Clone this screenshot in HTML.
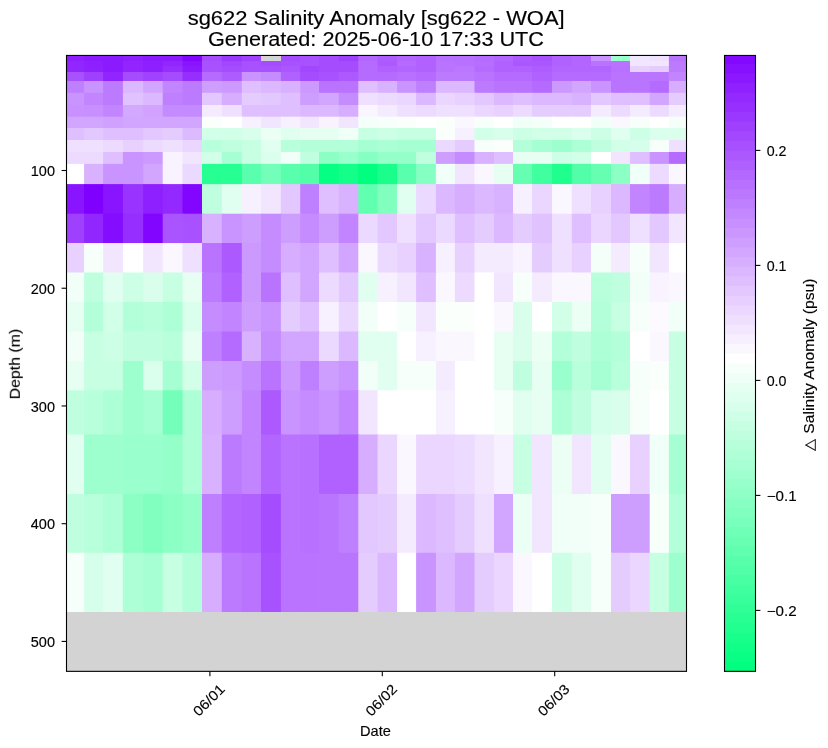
<!DOCTYPE html>
<html><head><meta charset="utf-8"><title>sg622 Salinity Anomaly</title>
<style>html,body{margin:0;padding:0;background:#fff;}svg{display:block;}text{font-family:"Liberation Sans",sans-serif;fill:#000;}.tx{opacity:0.999;}.s text{stroke:#000;stroke-width:0.15px;}</style></head><body>
<svg width="828" height="748" viewBox="0 0 828 748">
<rect width="828" height="748" fill="#ffffff"/>
<defs><clipPath id="ax"><rect x="66.50" y="55.45" width="620.00" height="615.90"/></clipPath>
<clipPath id="cb"><rect x="724.50" y="55.45" width="31.00" height="615.90"/></clipPath></defs>
<rect x="66.50" y="55.45" width="620.00" height="615.90" fill="#d3d3d3"/>
<g clip-path="url(#ax)">
<rect x="66.50" y="55.50" width="18.90" height="6.80" fill="#8e1fff"/>
<rect x="84.10" y="55.50" width="20.30" height="6.80" fill="#8c1aff"/>
<rect x="103.10" y="55.50" width="21.10" height="6.80" fill="#8c1aff"/>
<rect x="122.90" y="55.50" width="21.60" height="6.80" fill="#8e1fff"/>
<rect x="143.20" y="55.50" width="20.80" height="6.80" fill="#8c1aff"/>
<rect x="162.70" y="55.50" width="21.10" height="6.80" fill="#8c1aff"/>
<rect x="182.50" y="55.50" width="20.80" height="6.80" fill="#8205ff"/>
<rect x="202.00" y="55.50" width="21.10" height="6.80" fill="#a54cff"/>
<rect x="221.80" y="55.50" width="21.30" height="6.80" fill="#9b38ff"/>
<rect x="241.80" y="55.50" width="20.50" height="6.80" fill="#a042ff"/>
<rect x="280.90" y="55.50" width="20.60" height="6.80" fill="#a54cff"/>
<rect x="300.20" y="55.50" width="20.10" height="6.80" fill="#a852ff"/>
<rect x="319.00" y="55.50" width="21.10" height="6.80" fill="#a54cff"/>
<rect x="338.80" y="55.50" width="20.80" height="6.80" fill="#9f40ff"/>
<rect x="358.30" y="55.50" width="20.60" height="6.80" fill="#b266ff"/>
<rect x="377.60" y="55.50" width="20.80" height="6.80" fill="#ad5cff"/>
<rect x="397.10" y="55.50" width="20.30" height="6.80" fill="#b266ff"/>
<rect x="416.10" y="55.50" width="21.10" height="6.80" fill="#b061ff"/>
<rect x="435.90" y="55.50" width="20.30" height="6.80" fill="#b770ff"/>
<rect x="454.90" y="55.50" width="20.90" height="6.80" fill="#b770ff"/>
<rect x="474.50" y="55.50" width="20.80" height="6.80" fill="#b56bff"/>
<rect x="494.00" y="55.50" width="20.30" height="6.80" fill="#b266ff"/>
<rect x="513.00" y="55.50" width="20.30" height="6.80" fill="#ac59ff"/>
<rect x="532.00" y="55.50" width="21.30" height="6.80" fill="#a852ff"/>
<rect x="552.00" y="55.50" width="21.10" height="6.80" fill="#b061ff"/>
<rect x="571.80" y="55.50" width="20.50" height="6.80" fill="#b266ff"/>
<rect x="591.00" y="55.50" width="21.30" height="6.80" fill="#c994ff"/>
<rect x="611.00" y="55.50" width="20.30" height="6.80" fill="#99ffcc"/>
<rect x="630.00" y="55.50" width="21.00" height="6.80" fill="#f2e6ff"/>
<rect x="649.70" y="55.50" width="20.50" height="6.80" fill="#f0e0ff"/>
<rect x="668.90" y="55.50" width="18.90" height="6.80" fill="#b973ff"/>
<rect x="66.50" y="61.00" width="18.90" height="6.30" fill="#9226ff"/>
<rect x="84.10" y="61.00" width="20.30" height="6.30" fill="#8e1fff"/>
<rect x="103.10" y="61.00" width="21.10" height="6.30" fill="#8c1aff"/>
<rect x="122.90" y="61.00" width="21.60" height="6.30" fill="#9124ff"/>
<rect x="143.20" y="61.00" width="20.80" height="6.30" fill="#8e1fff"/>
<rect x="162.70" y="61.00" width="21.10" height="6.30" fill="#9226ff"/>
<rect x="182.50" y="61.00" width="20.80" height="6.30" fill="#8914ff"/>
<rect x="202.00" y="61.00" width="21.10" height="6.30" fill="#a852ff"/>
<rect x="221.80" y="61.00" width="21.30" height="6.30" fill="#a347ff"/>
<rect x="241.80" y="61.00" width="20.50" height="6.30" fill="#a852ff"/>
<rect x="261.00" y="61.00" width="21.20" height="6.30" fill="#a54cff"/>
<rect x="280.90" y="61.00" width="20.60" height="6.30" fill="#a852ff"/>
<rect x="300.20" y="61.00" width="20.10" height="6.30" fill="#a852ff"/>
<rect x="319.00" y="61.00" width="21.10" height="6.30" fill="#a54cff"/>
<rect x="338.80" y="61.00" width="20.80" height="6.30" fill="#a54cff"/>
<rect x="358.30" y="61.00" width="20.60" height="6.30" fill="#b56bff"/>
<rect x="377.60" y="61.00" width="20.80" height="6.30" fill="#ac59ff"/>
<rect x="397.10" y="61.00" width="20.30" height="6.30" fill="#b56bff"/>
<rect x="416.10" y="61.00" width="21.10" height="6.30" fill="#b061ff"/>
<rect x="435.90" y="61.00" width="20.30" height="6.30" fill="#b973ff"/>
<rect x="454.90" y="61.00" width="20.90" height="6.30" fill="#b770ff"/>
<rect x="474.50" y="61.00" width="20.80" height="6.30" fill="#b66eff"/>
<rect x="494.00" y="61.00" width="20.30" height="6.30" fill="#b061ff"/>
<rect x="513.00" y="61.00" width="20.30" height="6.30" fill="#ab57ff"/>
<rect x="532.00" y="61.00" width="21.30" height="6.30" fill="#ab57ff"/>
<rect x="552.00" y="61.00" width="21.10" height="6.30" fill="#b061ff"/>
<rect x="571.80" y="61.00" width="20.50" height="6.30" fill="#b266ff"/>
<rect x="591.00" y="61.00" width="21.30" height="6.30" fill="#b973ff"/>
<rect x="611.00" y="61.00" width="20.30" height="6.30" fill="#b973ff"/>
<rect x="630.00" y="61.00" width="21.00" height="6.30" fill="#f2e6ff"/>
<rect x="649.70" y="61.00" width="20.50" height="6.30" fill="#f2e6ff"/>
<rect x="668.90" y="61.00" width="18.90" height="6.30" fill="#bc7aff"/>
<rect x="66.50" y="66.00" width="18.90" height="7.30" fill="#9226ff"/>
<rect x="84.10" y="66.00" width="20.30" height="7.30" fill="#9021ff"/>
<rect x="103.10" y="66.00" width="21.10" height="7.30" fill="#8c1aff"/>
<rect x="122.90" y="66.00" width="21.60" height="7.30" fill="#9124ff"/>
<rect x="143.20" y="66.00" width="20.80" height="7.30" fill="#8e1fff"/>
<rect x="162.70" y="66.00" width="21.10" height="7.30" fill="#962eff"/>
<rect x="182.50" y="66.00" width="20.80" height="7.30" fill="#8c1aff"/>
<rect x="202.00" y="66.00" width="21.10" height="7.30" fill="#a852ff"/>
<rect x="221.80" y="66.00" width="21.30" height="7.30" fill="#a54cff"/>
<rect x="241.80" y="66.00" width="20.50" height="7.30" fill="#a852ff"/>
<rect x="261.00" y="66.00" width="21.20" height="7.30" fill="#a852ff"/>
<rect x="280.90" y="66.00" width="20.60" height="7.30" fill="#ab57ff"/>
<rect x="300.20" y="66.00" width="20.10" height="7.30" fill="#a347ff"/>
<rect x="319.00" y="66.00" width="21.10" height="7.30" fill="#a54cff"/>
<rect x="338.80" y="66.00" width="20.80" height="7.30" fill="#a54cff"/>
<rect x="358.30" y="66.00" width="20.60" height="7.30" fill="#b56bff"/>
<rect x="377.60" y="66.00" width="20.80" height="7.30" fill="#b061ff"/>
<rect x="397.10" y="66.00" width="20.30" height="7.30" fill="#b266ff"/>
<rect x="416.10" y="66.00" width="21.10" height="7.30" fill="#b061ff"/>
<rect x="435.90" y="66.00" width="20.30" height="7.30" fill="#b973ff"/>
<rect x="454.90" y="66.00" width="20.90" height="7.30" fill="#bb78ff"/>
<rect x="474.50" y="66.00" width="20.80" height="7.30" fill="#b56bff"/>
<rect x="494.00" y="66.00" width="20.30" height="7.30" fill="#b061ff"/>
<rect x="513.00" y="66.00" width="20.30" height="7.30" fill="#b061ff"/>
<rect x="532.00" y="66.00" width="21.30" height="7.30" fill="#ad5cff"/>
<rect x="552.00" y="66.00" width="21.10" height="7.30" fill="#b266ff"/>
<rect x="571.80" y="66.00" width="20.50" height="7.30" fill="#b266ff"/>
<rect x="591.00" y="66.00" width="21.30" height="7.30" fill="#b266ff"/>
<rect x="611.00" y="66.00" width="20.30" height="7.30" fill="#b770ff"/>
<rect x="630.00" y="66.00" width="21.00" height="7.30" fill="#e8d1ff"/>
<rect x="649.70" y="66.00" width="20.50" height="7.30" fill="#e5ccff"/>
<rect x="668.90" y="66.00" width="18.90" height="7.30" fill="#bc7aff"/>
<rect x="66.50" y="72.00" width="18.90" height="10.30" fill="#a852ff"/>
<rect x="84.10" y="72.00" width="20.30" height="10.30" fill="#9f40ff"/>
<rect x="103.10" y="72.00" width="21.10" height="10.30" fill="#9124ff"/>
<rect x="122.90" y="72.00" width="21.60" height="10.30" fill="#a54cff"/>
<rect x="143.20" y="72.00" width="20.80" height="10.30" fill="#a042ff"/>
<rect x="162.70" y="72.00" width="21.10" height="10.30" fill="#a54cff"/>
<rect x="182.50" y="72.00" width="20.80" height="10.30" fill="#962eff"/>
<rect x="202.00" y="72.00" width="21.10" height="10.30" fill="#b56bff"/>
<rect x="221.80" y="72.00" width="21.30" height="10.30" fill="#ad5cff"/>
<rect x="241.80" y="72.00" width="20.50" height="10.30" fill="#c994ff"/>
<rect x="261.00" y="72.00" width="21.20" height="10.30" fill="#c58cff"/>
<rect x="280.90" y="72.00" width="20.60" height="10.30" fill="#b061ff"/>
<rect x="300.20" y="72.00" width="20.10" height="10.30" fill="#a54cff"/>
<rect x="319.00" y="72.00" width="21.10" height="10.30" fill="#a852ff"/>
<rect x="338.80" y="72.00" width="20.80" height="10.30" fill="#ac59ff"/>
<rect x="358.30" y="72.00" width="20.60" height="10.30" fill="#b56bff"/>
<rect x="377.60" y="72.00" width="20.80" height="10.30" fill="#b56bff"/>
<rect x="397.10" y="72.00" width="20.30" height="10.30" fill="#b770ff"/>
<rect x="416.10" y="72.00" width="21.10" height="10.30" fill="#b56bff"/>
<rect x="435.90" y="72.00" width="20.30" height="10.30" fill="#bc7aff"/>
<rect x="454.90" y="72.00" width="20.90" height="10.30" fill="#bc7aff"/>
<rect x="474.50" y="72.00" width="20.80" height="10.30" fill="#b973ff"/>
<rect x="494.00" y="72.00" width="20.30" height="10.30" fill="#b56bff"/>
<rect x="513.00" y="72.00" width="20.30" height="10.30" fill="#b56bff"/>
<rect x="532.00" y="72.00" width="21.30" height="10.30" fill="#b061ff"/>
<rect x="552.00" y="72.00" width="21.10" height="10.30" fill="#b56bff"/>
<rect x="571.80" y="72.00" width="20.50" height="10.30" fill="#b56bff"/>
<rect x="591.00" y="72.00" width="21.30" height="10.30" fill="#b56bff"/>
<rect x="611.00" y="72.00" width="20.30" height="10.30" fill="#b973ff"/>
<rect x="630.00" y="72.00" width="21.00" height="10.30" fill="#ba75ff"/>
<rect x="649.70" y="72.00" width="20.50" height="10.30" fill="#ba75ff"/>
<rect x="668.90" y="72.00" width="18.90" height="10.30" fill="#c285ff"/>
<rect x="66.50" y="81.00" width="18.90" height="13.10" fill="#bf80ff"/>
<rect x="84.10" y="81.00" width="20.30" height="13.10" fill="#c994ff"/>
<rect x="103.10" y="81.00" width="21.10" height="13.10" fill="#bc7aff"/>
<rect x="122.90" y="81.00" width="21.60" height="13.10" fill="#dbb8ff"/>
<rect x="143.20" y="81.00" width="20.80" height="13.10" fill="#d2a6ff"/>
<rect x="162.70" y="81.00" width="21.10" height="13.10" fill="#c285ff"/>
<rect x="182.50" y="81.00" width="20.80" height="13.10" fill="#bc7aff"/>
<rect x="202.00" y="81.00" width="21.10" height="13.10" fill="#ce9eff"/>
<rect x="221.80" y="81.00" width="21.30" height="13.10" fill="#cc99ff"/>
<rect x="241.80" y="81.00" width="20.50" height="13.10" fill="#dfbfff"/>
<rect x="261.00" y="81.00" width="21.20" height="13.10" fill="#dbb8ff"/>
<rect x="280.90" y="81.00" width="20.60" height="13.10" fill="#d9b2ff"/>
<rect x="300.20" y="81.00" width="20.10" height="13.10" fill="#cc99ff"/>
<rect x="319.00" y="81.00" width="21.10" height="13.10" fill="#b973ff"/>
<rect x="338.80" y="81.00" width="20.80" height="13.10" fill="#b973ff"/>
<rect x="358.30" y="81.00" width="20.60" height="13.10" fill="#dfbfff"/>
<rect x="377.60" y="81.00" width="20.80" height="13.10" fill="#d9b2ff"/>
<rect x="397.10" y="81.00" width="20.30" height="13.10" fill="#c994ff"/>
<rect x="416.10" y="81.00" width="21.10" height="13.10" fill="#bf80ff"/>
<rect x="435.90" y="81.00" width="20.30" height="13.10" fill="#dbb8ff"/>
<rect x="454.90" y="81.00" width="20.90" height="13.10" fill="#dbb8ff"/>
<rect x="474.50" y="81.00" width="20.80" height="13.10" fill="#bc7aff"/>
<rect x="494.00" y="81.00" width="20.30" height="13.10" fill="#b973ff"/>
<rect x="513.00" y="81.00" width="20.30" height="13.10" fill="#b973ff"/>
<rect x="532.00" y="81.00" width="21.30" height="13.10" fill="#b56bff"/>
<rect x="552.00" y="81.00" width="21.10" height="13.10" fill="#cc99ff"/>
<rect x="571.80" y="81.00" width="20.50" height="13.10" fill="#d2a6ff"/>
<rect x="591.00" y="81.00" width="21.30" height="13.10" fill="#c994ff"/>
<rect x="611.00" y="81.00" width="20.30" height="13.10" fill="#b973ff"/>
<rect x="630.00" y="81.00" width="21.00" height="13.10" fill="#ba75ff"/>
<rect x="649.70" y="81.00" width="20.50" height="13.10" fill="#b56bff"/>
<rect x="668.90" y="81.00" width="18.90" height="13.10" fill="#d6adff"/>
<rect x="66.50" y="92.80" width="18.90" height="13.50" fill="#c994ff"/>
<rect x="84.10" y="92.80" width="20.30" height="13.50" fill="#c285ff"/>
<rect x="103.10" y="92.80" width="21.10" height="13.50" fill="#bc7aff"/>
<rect x="122.90" y="92.80" width="21.60" height="13.50" fill="#e0c2ff"/>
<rect x="143.20" y="92.80" width="20.80" height="13.50" fill="#dbb8ff"/>
<rect x="162.70" y="92.80" width="21.10" height="13.50" fill="#bf80ff"/>
<rect x="182.50" y="92.80" width="20.80" height="13.50" fill="#bc7aff"/>
<rect x="202.00" y="92.80" width="21.10" height="13.50" fill="#e3c7ff"/>
<rect x="221.80" y="92.80" width="21.30" height="13.50" fill="#d6adff"/>
<rect x="241.80" y="92.80" width="20.50" height="13.50" fill="#e5ccff"/>
<rect x="261.00" y="92.80" width="21.20" height="13.50" fill="#e3c7ff"/>
<rect x="280.90" y="92.80" width="20.60" height="13.50" fill="#dfbfff"/>
<rect x="300.20" y="92.80" width="20.10" height="13.50" fill="#ce9eff"/>
<rect x="319.00" y="92.80" width="21.10" height="13.50" fill="#d2a6ff"/>
<rect x="338.80" y="92.80" width="20.80" height="13.50" fill="#c58cff"/>
<rect x="358.30" y="92.80" width="20.60" height="13.50" fill="#f0e0ff"/>
<rect x="377.60" y="92.80" width="20.80" height="13.50" fill="#eddbff"/>
<rect x="397.10" y="92.80" width="20.30" height="13.50" fill="#ebd6ff"/>
<rect x="416.10" y="92.80" width="21.10" height="13.50" fill="#dbb8ff"/>
<rect x="435.90" y="92.80" width="20.30" height="13.50" fill="#ebd6ff"/>
<rect x="454.90" y="92.80" width="20.90" height="13.50" fill="#e8d1ff"/>
<rect x="474.50" y="92.80" width="20.80" height="13.50" fill="#e3c7ff"/>
<rect x="494.00" y="92.80" width="20.30" height="13.50" fill="#dbb8ff"/>
<rect x="513.00" y="92.80" width="20.30" height="13.50" fill="#dfbfff"/>
<rect x="532.00" y="92.80" width="21.30" height="13.50" fill="#dbb8ff"/>
<rect x="552.00" y="92.80" width="21.10" height="13.50" fill="#dbb8ff"/>
<rect x="571.80" y="92.80" width="20.50" height="13.50" fill="#d9b2ff"/>
<rect x="591.00" y="92.80" width="21.30" height="13.50" fill="#e3c7ff"/>
<rect x="611.00" y="92.80" width="20.30" height="13.50" fill="#dfbfff"/>
<rect x="630.00" y="92.80" width="21.00" height="13.50" fill="#dfbfff"/>
<rect x="649.70" y="92.80" width="20.50" height="13.50" fill="#d2a6ff"/>
<rect x="668.90" y="92.80" width="18.90" height="13.50" fill="#e5ccff"/>
<rect x="66.50" y="105.00" width="18.90" height="13.00" fill="#c891ff"/>
<rect x="84.10" y="105.00" width="20.30" height="13.00" fill="#c78fff"/>
<rect x="103.10" y="105.00" width="21.10" height="13.00" fill="#c285ff"/>
<rect x="122.90" y="105.00" width="21.60" height="13.00" fill="#d3a8ff"/>
<rect x="143.20" y="105.00" width="20.80" height="13.00" fill="#d1a3ff"/>
<rect x="162.70" y="105.00" width="21.10" height="13.00" fill="#c48aff"/>
<rect x="182.50" y="105.00" width="20.80" height="13.00" fill="#c48aff"/>
<rect x="202.00" y="105.00" width="21.10" height="13.00" fill="#f5ebff"/>
<rect x="221.80" y="105.00" width="21.30" height="13.00" fill="#f0e0ff"/>
<rect x="241.80" y="105.00" width="20.50" height="13.00" fill="#dfbfff"/>
<rect x="261.00" y="105.00" width="21.20" height="13.00" fill="#dfbfff"/>
<rect x="280.90" y="105.00" width="20.60" height="13.00" fill="#dfbfff"/>
<rect x="300.20" y="105.00" width="20.10" height="13.00" fill="#dbb8ff"/>
<rect x="319.00" y="105.00" width="21.10" height="13.00" fill="#dbb8ff"/>
<rect x="338.80" y="105.00" width="20.80" height="13.00" fill="#d6adff"/>
<rect x="358.30" y="105.00" width="20.60" height="13.00" fill="#faf5ff"/>
<rect x="377.60" y="105.00" width="20.80" height="13.00" fill="#f5ebff"/>
<rect x="397.10" y="105.00" width="20.30" height="13.00" fill="#f0e0ff"/>
<rect x="416.10" y="105.00" width="21.10" height="13.00" fill="#eddbff"/>
<rect x="435.90" y="105.00" width="20.30" height="13.00" fill="#f0e0ff"/>
<rect x="454.90" y="105.00" width="20.90" height="13.00" fill="#f0e0ff"/>
<rect x="474.50" y="105.00" width="20.80" height="13.00" fill="#ebd6ff"/>
<rect x="494.00" y="105.00" width="20.30" height="13.00" fill="#e8d1ff"/>
<rect x="513.00" y="105.00" width="20.30" height="13.00" fill="#eddbff"/>
<rect x="532.00" y="105.00" width="21.30" height="13.00" fill="#e5ccff"/>
<rect x="552.00" y="105.00" width="21.10" height="13.00" fill="#e5ccff"/>
<rect x="571.80" y="105.00" width="20.50" height="13.00" fill="#e5ccff"/>
<rect x="591.00" y="105.00" width="21.30" height="13.00" fill="#f5ebff"/>
<rect x="611.00" y="105.00" width="20.30" height="13.00" fill="#eddbff"/>
<rect x="630.00" y="105.00" width="21.00" height="13.00" fill="#f5ebff"/>
<rect x="649.70" y="105.00" width="20.50" height="13.00" fill="#eddbff"/>
<rect x="668.90" y="105.00" width="18.90" height="13.00" fill="#f5ebff"/>
<rect x="66.50" y="116.70" width="18.90" height="12.60" fill="#d2a6ff"/>
<rect x="84.10" y="116.70" width="20.30" height="12.60" fill="#d2a6ff"/>
<rect x="103.10" y="116.70" width="21.10" height="12.60" fill="#d0a1ff"/>
<rect x="122.90" y="116.70" width="21.60" height="12.60" fill="#d2a6ff"/>
<rect x="143.20" y="116.70" width="20.80" height="12.60" fill="#d2a6ff"/>
<rect x="162.70" y="116.70" width="21.10" height="12.60" fill="#d2a6ff"/>
<rect x="182.50" y="116.70" width="20.80" height="12.60" fill="#d2a6ff"/>
<rect x="202.00" y="116.70" width="21.10" height="12.60" fill="#fafffc"/>
<rect x="221.80" y="116.70" width="21.30" height="12.60" fill="#ffffff"/>
<rect x="241.80" y="116.70" width="20.50" height="12.60" fill="#f7f0ff"/>
<rect x="261.00" y="116.70" width="21.20" height="12.60" fill="#f2e6ff"/>
<rect x="280.90" y="116.70" width="20.60" height="12.60" fill="#f7f0ff"/>
<rect x="300.20" y="116.70" width="20.10" height="12.60" fill="#f2e6ff"/>
<rect x="319.00" y="116.70" width="21.10" height="12.60" fill="#f9f2ff"/>
<rect x="338.80" y="116.70" width="20.80" height="12.60" fill="#f2e6ff"/>
<rect x="358.30" y="116.70" width="20.60" height="12.60" fill="#f5fffa"/>
<rect x="377.60" y="116.70" width="20.80" height="12.60" fill="#f7fffb"/>
<rect x="397.10" y="116.70" width="20.30" height="12.60" fill="#fafffc"/>
<rect x="416.10" y="116.70" width="21.10" height="12.60" fill="#ffffff"/>
<rect x="435.90" y="116.70" width="20.30" height="12.60" fill="#fafffc"/>
<rect x="454.90" y="116.70" width="20.90" height="12.60" fill="#fbf7ff"/>
<rect x="474.50" y="116.70" width="20.80" height="12.60" fill="#f7fffb"/>
<rect x="494.00" y="116.70" width="20.30" height="12.60" fill="#ffffff"/>
<rect x="513.00" y="116.70" width="20.30" height="12.60" fill="#f0fff7"/>
<rect x="532.00" y="116.70" width="21.30" height="12.60" fill="#f5fffa"/>
<rect x="552.00" y="116.70" width="21.10" height="12.60" fill="#ffffff"/>
<rect x="571.80" y="116.70" width="20.50" height="12.60" fill="#ffffff"/>
<rect x="591.00" y="116.70" width="21.30" height="12.60" fill="#f0fff7"/>
<rect x="611.00" y="116.70" width="20.30" height="12.60" fill="#fbf7ff"/>
<rect x="630.00" y="116.70" width="21.00" height="12.60" fill="#f7fffb"/>
<rect x="649.70" y="116.70" width="20.50" height="12.60" fill="#ffffff"/>
<rect x="668.90" y="116.70" width="18.90" height="12.60" fill="#f5fffa"/>
<rect x="66.50" y="128.00" width="18.90" height="13.30" fill="#dfbfff"/>
<rect x="84.10" y="128.00" width="20.30" height="13.30" fill="#e3c7ff"/>
<rect x="103.10" y="128.00" width="21.10" height="13.30" fill="#dfbfff"/>
<rect x="122.90" y="128.00" width="21.60" height="13.30" fill="#dfbfff"/>
<rect x="143.20" y="128.00" width="20.80" height="13.30" fill="#e3c7ff"/>
<rect x="162.70" y="128.00" width="21.10" height="13.30" fill="#e5ccff"/>
<rect x="182.50" y="128.00" width="20.80" height="13.30" fill="#dcbaff"/>
<rect x="202.00" y="128.00" width="21.10" height="13.30" fill="#d1ffe8"/>
<rect x="221.80" y="128.00" width="21.30" height="13.30" fill="#d1ffe8"/>
<rect x="241.80" y="128.00" width="20.50" height="13.30" fill="#d9ffec"/>
<rect x="261.00" y="128.00" width="21.20" height="13.30" fill="#ebfff5"/>
<rect x="280.90" y="128.00" width="20.60" height="13.30" fill="#e0fff0"/>
<rect x="300.20" y="128.00" width="20.10" height="13.30" fill="#e6fff2"/>
<rect x="319.00" y="128.00" width="21.10" height="13.30" fill="#e6fff2"/>
<rect x="338.80" y="128.00" width="20.80" height="13.30" fill="#f0fff7"/>
<rect x="358.30" y="128.00" width="20.60" height="13.30" fill="#c7ffe3"/>
<rect x="377.60" y="128.00" width="20.80" height="13.30" fill="#ccffe5"/>
<rect x="397.10" y="128.00" width="20.30" height="13.30" fill="#c7ffe3"/>
<rect x="416.10" y="128.00" width="21.10" height="13.30" fill="#c7ffe3"/>
<rect x="435.90" y="128.00" width="20.30" height="13.30" fill="#fafffc"/>
<rect x="454.90" y="128.00" width="20.90" height="13.30" fill="#f7f0ff"/>
<rect x="474.50" y="128.00" width="20.80" height="13.30" fill="#d1ffe8"/>
<rect x="494.00" y="128.00" width="20.30" height="13.30" fill="#d9ffec"/>
<rect x="513.00" y="128.00" width="20.30" height="13.30" fill="#ccffe5"/>
<rect x="532.00" y="128.00" width="21.30" height="13.30" fill="#d1ffe8"/>
<rect x="552.00" y="128.00" width="21.10" height="13.30" fill="#d1ffe8"/>
<rect x="571.80" y="128.00" width="20.50" height="13.30" fill="#dbffed"/>
<rect x="591.00" y="128.00" width="21.30" height="13.30" fill="#ccffe5"/>
<rect x="611.00" y="128.00" width="20.30" height="13.30" fill="#e0fff0"/>
<rect x="630.00" y="128.00" width="21.00" height="13.30" fill="#ccffe5"/>
<rect x="649.70" y="128.00" width="20.50" height="13.30" fill="#dbffed"/>
<rect x="668.90" y="128.00" width="18.90" height="13.30" fill="#dbffed"/>
<rect x="66.50" y="140.00" width="18.90" height="13.30" fill="#f0e0ff"/>
<rect x="84.10" y="140.00" width="20.30" height="13.30" fill="#f0e0ff"/>
<rect x="103.10" y="140.00" width="21.10" height="13.30" fill="#eddbff"/>
<rect x="122.90" y="140.00" width="21.60" height="13.30" fill="#e8d1ff"/>
<rect x="143.20" y="140.00" width="20.80" height="13.30" fill="#eddbff"/>
<rect x="162.70" y="140.00" width="21.10" height="13.30" fill="#f0e0ff"/>
<rect x="182.50" y="140.00" width="20.80" height="13.30" fill="#ebd6ff"/>
<rect x="202.00" y="140.00" width="21.10" height="13.30" fill="#b8ffdb"/>
<rect x="221.80" y="140.00" width="21.30" height="13.30" fill="#bfffdf"/>
<rect x="241.80" y="140.00" width="20.50" height="13.30" fill="#c7ffe3"/>
<rect x="261.00" y="140.00" width="21.20" height="13.30" fill="#e0fff0"/>
<rect x="280.90" y="140.00" width="20.60" height="13.30" fill="#b8ffdb"/>
<rect x="300.20" y="140.00" width="20.10" height="13.30" fill="#b2ffd9"/>
<rect x="319.00" y="140.00" width="21.10" height="13.30" fill="#b2ffd9"/>
<rect x="338.80" y="140.00" width="20.80" height="13.30" fill="#b2ffd9"/>
<rect x="358.30" y="140.00" width="20.60" height="13.30" fill="#a6ffd2"/>
<rect x="377.60" y="140.00" width="20.80" height="13.30" fill="#abffd5"/>
<rect x="397.10" y="140.00" width="20.30" height="13.30" fill="#a6ffd2"/>
<rect x="416.10" y="140.00" width="21.10" height="13.30" fill="#a6ffd2"/>
<rect x="435.90" y="140.00" width="20.30" height="13.30" fill="#ecd9ff"/>
<rect x="454.90" y="140.00" width="20.90" height="13.30" fill="#e5ccff"/>
<rect x="474.50" y="140.00" width="20.80" height="13.30" fill="#f7fffb"/>
<rect x="494.00" y="140.00" width="20.30" height="13.30" fill="#fafffc"/>
<rect x="513.00" y="140.00" width="20.30" height="13.30" fill="#b2ffd9"/>
<rect x="532.00" y="140.00" width="21.30" height="13.30" fill="#a6ffd2"/>
<rect x="552.00" y="140.00" width="21.10" height="13.30" fill="#9effce"/>
<rect x="571.80" y="140.00" width="20.50" height="13.30" fill="#adffd6"/>
<rect x="591.00" y="140.00" width="21.30" height="13.30" fill="#bfffdf"/>
<rect x="611.00" y="140.00" width="20.30" height="13.30" fill="#d1ffe8"/>
<rect x="630.00" y="140.00" width="21.00" height="13.30" fill="#d6ffeb"/>
<rect x="649.70" y="140.00" width="20.50" height="13.30" fill="#f7fffb"/>
<rect x="668.90" y="140.00" width="18.90" height="13.30" fill="#f0e0ff"/>
<rect x="66.50" y="152.00" width="18.90" height="13.20" fill="#eddbff"/>
<rect x="84.10" y="152.00" width="20.30" height="13.20" fill="#eddbff"/>
<rect x="103.10" y="152.00" width="21.10" height="13.20" fill="#dfbfff"/>
<rect x="122.90" y="152.00" width="21.60" height="13.20" fill="#c994ff"/>
<rect x="143.20" y="152.00" width="20.80" height="13.20" fill="#cc99ff"/>
<rect x="162.70" y="152.00" width="21.10" height="13.20" fill="#f9f2ff"/>
<rect x="182.50" y="152.00" width="20.80" height="13.20" fill="#f2e6ff"/>
<rect x="202.00" y="152.00" width="21.10" height="13.20" fill="#d1ffe8"/>
<rect x="221.80" y="152.00" width="21.30" height="13.20" fill="#a6ffd2"/>
<rect x="241.80" y="152.00" width="20.50" height="13.20" fill="#c7ffe3"/>
<rect x="261.00" y="152.00" width="21.20" height="13.20" fill="#dbffed"/>
<rect x="280.90" y="152.00" width="20.60" height="13.20" fill="#f2fff9"/>
<rect x="300.20" y="152.00" width="20.10" height="13.20" fill="#bfffdf"/>
<rect x="319.00" y="152.00" width="21.10" height="13.20" fill="#8cffc5"/>
<rect x="338.80" y="152.00" width="20.80" height="13.20" fill="#99ffcc"/>
<rect x="358.30" y="152.00" width="20.60" height="13.20" fill="#85ffc2"/>
<rect x="377.60" y="152.00" width="20.80" height="13.20" fill="#94ffc9"/>
<rect x="397.10" y="152.00" width="20.30" height="13.20" fill="#94ffc9"/>
<rect x="416.10" y="152.00" width="21.10" height="13.20" fill="#bfffdf"/>
<rect x="435.90" y="152.00" width="20.30" height="13.20" fill="#ce9eff"/>
<rect x="454.90" y="152.00" width="20.90" height="13.20" fill="#c58cff"/>
<rect x="474.50" y="152.00" width="20.80" height="13.20" fill="#d9b2ff"/>
<rect x="494.00" y="152.00" width="20.30" height="13.20" fill="#dfbfff"/>
<rect x="513.00" y="152.00" width="20.30" height="13.20" fill="#e6fff2"/>
<rect x="532.00" y="152.00" width="21.30" height="13.20" fill="#e6fff2"/>
<rect x="552.00" y="152.00" width="21.10" height="13.20" fill="#ccffe5"/>
<rect x="571.80" y="152.00" width="20.50" height="13.20" fill="#d1ffe8"/>
<rect x="591.00" y="152.00" width="21.30" height="13.20" fill="#ffffff"/>
<rect x="611.00" y="152.00" width="20.30" height="13.20" fill="#f2e6ff"/>
<rect x="630.00" y="152.00" width="21.00" height="13.20" fill="#dfbfff"/>
<rect x="649.70" y="152.00" width="20.50" height="13.20" fill="#c994ff"/>
<rect x="668.90" y="152.00" width="18.90" height="13.20" fill="#b56bff"/>
<rect x="66.50" y="163.90" width="18.90" height="21.50" fill="#ffffff"/>
<rect x="84.10" y="163.90" width="20.30" height="21.50" fill="#d9b2ff"/>
<rect x="103.10" y="163.90" width="21.10" height="21.50" fill="#c994ff"/>
<rect x="122.90" y="163.90" width="21.60" height="21.50" fill="#c994ff"/>
<rect x="143.20" y="163.90" width="20.80" height="21.50" fill="#d2a6ff"/>
<rect x="162.70" y="163.90" width="21.10" height="21.50" fill="#f9f2ff"/>
<rect x="182.50" y="163.90" width="20.80" height="21.50" fill="#ecd9ff"/>
<rect x="202.00" y="163.90" width="21.10" height="21.50" fill="#26ff92"/>
<rect x="221.80" y="163.90" width="21.30" height="21.50" fill="#26ff92"/>
<rect x="241.80" y="163.90" width="20.50" height="21.50" fill="#59ffac"/>
<rect x="261.00" y="163.90" width="21.20" height="21.50" fill="#73ffb9"/>
<rect x="280.90" y="163.90" width="20.60" height="21.50" fill="#59ffac"/>
<rect x="300.20" y="163.90" width="20.10" height="21.50" fill="#52ffa8"/>
<rect x="319.00" y="163.90" width="21.10" height="21.50" fill="#05ff82"/>
<rect x="338.80" y="163.90" width="20.80" height="21.50" fill="#14ff89"/>
<rect x="358.30" y="163.90" width="20.60" height="21.50" fill="#00ff7f"/>
<rect x="377.60" y="163.90" width="20.80" height="21.50" fill="#1aff8c"/>
<rect x="397.10" y="163.90" width="20.30" height="21.50" fill="#59ffac"/>
<rect x="416.10" y="163.90" width="21.10" height="21.50" fill="#85ffc2"/>
<rect x="435.90" y="163.90" width="20.30" height="21.50" fill="#f0fff7"/>
<rect x="454.90" y="163.90" width="20.90" height="21.50" fill="#f2e6ff"/>
<rect x="474.50" y="163.90" width="20.80" height="21.50" fill="#fbf7ff"/>
<rect x="494.00" y="163.90" width="20.30" height="21.50" fill="#e6fff2"/>
<rect x="513.00" y="163.90" width="20.30" height="21.50" fill="#66ffb2"/>
<rect x="532.00" y="163.90" width="21.30" height="21.50" fill="#40ff9f"/>
<rect x="552.00" y="163.90" width="21.10" height="21.50" fill="#1fff8e"/>
<rect x="571.80" y="163.90" width="20.50" height="21.50" fill="#52ffa8"/>
<rect x="591.00" y="163.90" width="21.30" height="21.50" fill="#66ffb2"/>
<rect x="611.00" y="163.90" width="20.30" height="21.50" fill="#8cffc5"/>
<rect x="630.00" y="163.90" width="21.00" height="21.50" fill="#f0fff7"/>
<rect x="649.70" y="163.90" width="20.50" height="21.50" fill="#eddbff"/>
<rect x="668.90" y="163.90" width="18.90" height="21.50" fill="#fbf7ff"/>
<rect x="66.50" y="184.10" width="18.90" height="30.90" fill="#8914ff"/>
<rect x="84.10" y="184.10" width="20.30" height="30.90" fill="#7f00ff"/>
<rect x="103.10" y="184.10" width="21.10" height="30.90" fill="#8914ff"/>
<rect x="122.90" y="184.10" width="21.60" height="30.90" fill="#9933ff"/>
<rect x="143.20" y="184.10" width="20.80" height="30.90" fill="#8e1fff"/>
<rect x="162.70" y="184.10" width="21.10" height="30.90" fill="#9329ff"/>
<rect x="182.50" y="184.10" width="20.80" height="30.90" fill="#8205ff"/>
<rect x="202.00" y="184.10" width="21.10" height="30.90" fill="#bfffdf"/>
<rect x="221.80" y="184.10" width="21.30" height="30.90" fill="#e0fff0"/>
<rect x="241.80" y="184.10" width="20.50" height="30.90" fill="#f7f0ff"/>
<rect x="261.00" y="184.10" width="21.20" height="30.90" fill="#f2e6ff"/>
<rect x="280.90" y="184.10" width="20.60" height="30.90" fill="#e3c7ff"/>
<rect x="300.20" y="184.10" width="20.10" height="30.90" fill="#bf80ff"/>
<rect x="319.00" y="184.10" width="21.10" height="30.90" fill="#dfbfff"/>
<rect x="338.80" y="184.10" width="20.80" height="30.90" fill="#d9b2ff"/>
<rect x="358.30" y="184.10" width="20.60" height="30.90" fill="#61ffb0"/>
<rect x="377.60" y="184.10" width="20.80" height="30.90" fill="#80ffbf"/>
<rect x="397.10" y="184.10" width="20.30" height="30.90" fill="#e0fff0"/>
<rect x="416.10" y="184.10" width="21.10" height="30.90" fill="#ecd9ff"/>
<rect x="435.90" y="184.10" width="20.30" height="30.90" fill="#dbb8ff"/>
<rect x="454.90" y="184.10" width="20.90" height="30.90" fill="#d6adff"/>
<rect x="474.50" y="184.10" width="20.80" height="30.90" fill="#dbb8ff"/>
<rect x="494.00" y="184.10" width="20.30" height="30.90" fill="#d9b2ff"/>
<rect x="513.00" y="184.10" width="20.30" height="30.90" fill="#f7f0ff"/>
<rect x="532.00" y="184.10" width="21.30" height="30.90" fill="#ebd6ff"/>
<rect x="552.00" y="184.10" width="21.10" height="30.90" fill="#fbf7ff"/>
<rect x="571.80" y="184.10" width="20.50" height="30.90" fill="#f0e0ff"/>
<rect x="591.00" y="184.10" width="21.30" height="30.90" fill="#e8d1ff"/>
<rect x="611.00" y="184.10" width="20.30" height="30.90" fill="#dbb8ff"/>
<rect x="630.00" y="184.10" width="21.00" height="30.90" fill="#c285ff"/>
<rect x="649.70" y="184.10" width="20.50" height="30.90" fill="#bc7aff"/>
<rect x="668.90" y="184.10" width="18.90" height="30.90" fill="#d6adff"/>
<rect x="66.50" y="213.70" width="18.90" height="30.60" fill="#9f40ff"/>
<rect x="84.10" y="213.70" width="20.30" height="30.60" fill="#9226ff"/>
<rect x="103.10" y="213.70" width="21.10" height="30.60" fill="#850dff"/>
<rect x="122.90" y="213.70" width="21.60" height="30.60" fill="#962eff"/>
<rect x="143.20" y="213.70" width="20.80" height="30.60" fill="#8205ff"/>
<rect x="162.70" y="213.70" width="21.10" height="30.60" fill="#a954ff"/>
<rect x="182.50" y="213.70" width="20.80" height="30.60" fill="#a852ff"/>
<rect x="202.00" y="213.70" width="21.10" height="30.60" fill="#d9b2ff"/>
<rect x="221.80" y="213.70" width="21.30" height="30.60" fill="#c994ff"/>
<rect x="241.80" y="213.70" width="20.50" height="30.60" fill="#ce9eff"/>
<rect x="261.00" y="213.70" width="21.20" height="30.60" fill="#c58cff"/>
<rect x="280.90" y="213.70" width="20.60" height="30.60" fill="#ce9eff"/>
<rect x="300.20" y="213.70" width="20.10" height="30.60" fill="#c58cff"/>
<rect x="319.00" y="213.70" width="21.10" height="30.60" fill="#ce9eff"/>
<rect x="338.80" y="213.70" width="20.80" height="30.60" fill="#c285ff"/>
<rect x="358.30" y="213.70" width="20.60" height="30.60" fill="#ecd9ff"/>
<rect x="377.60" y="213.70" width="20.80" height="30.60" fill="#e3c7ff"/>
<rect x="397.10" y="213.70" width="20.30" height="30.60" fill="#f0e0ff"/>
<rect x="416.10" y="213.70" width="21.10" height="30.60" fill="#e3c7ff"/>
<rect x="435.90" y="213.70" width="20.30" height="30.60" fill="#ecd9ff"/>
<rect x="454.90" y="213.70" width="20.90" height="30.60" fill="#dfbfff"/>
<rect x="474.50" y="213.70" width="20.80" height="30.60" fill="#e5ccff"/>
<rect x="494.00" y="213.70" width="20.30" height="30.60" fill="#dbb8ff"/>
<rect x="513.00" y="213.70" width="20.30" height="30.60" fill="#e5ccff"/>
<rect x="532.00" y="213.70" width="21.30" height="30.60" fill="#e0c2ff"/>
<rect x="552.00" y="213.70" width="21.10" height="30.60" fill="#f0e0ff"/>
<rect x="571.80" y="213.70" width="20.50" height="30.60" fill="#dfbfff"/>
<rect x="591.00" y="213.70" width="21.30" height="30.60" fill="#ebd6ff"/>
<rect x="611.00" y="213.70" width="20.30" height="30.60" fill="#e3c7ff"/>
<rect x="630.00" y="213.70" width="21.00" height="30.60" fill="#f0e0ff"/>
<rect x="649.70" y="213.70" width="20.50" height="30.60" fill="#e3c7ff"/>
<rect x="668.90" y="213.70" width="18.90" height="30.60" fill="#f2e6ff"/>
<rect x="66.50" y="243.00" width="18.90" height="30.80" fill="#e8d1ff"/>
<rect x="84.10" y="243.00" width="20.30" height="30.80" fill="#f7fffb"/>
<rect x="103.10" y="243.00" width="21.10" height="30.80" fill="#f2e6ff"/>
<rect x="122.90" y="243.00" width="21.60" height="30.80" fill="#ffffff"/>
<rect x="143.20" y="243.00" width="20.80" height="30.80" fill="#f2e6ff"/>
<rect x="162.70" y="243.00" width="21.10" height="30.80" fill="#fbf7ff"/>
<rect x="182.50" y="243.00" width="20.80" height="30.80" fill="#f0e0ff"/>
<rect x="202.00" y="243.00" width="21.10" height="30.80" fill="#b973ff"/>
<rect x="221.80" y="243.00" width="21.30" height="30.80" fill="#ac59ff"/>
<rect x="241.80" y="243.00" width="20.50" height="30.80" fill="#cc99ff"/>
<rect x="261.00" y="243.00" width="21.20" height="30.80" fill="#c58cff"/>
<rect x="280.90" y="243.00" width="20.60" height="30.80" fill="#d6adff"/>
<rect x="300.20" y="243.00" width="20.10" height="30.80" fill="#d2a6ff"/>
<rect x="319.00" y="243.00" width="21.10" height="30.80" fill="#dfbfff"/>
<rect x="338.80" y="243.00" width="20.80" height="30.80" fill="#d2a6ff"/>
<rect x="358.30" y="243.00" width="20.60" height="30.80" fill="#fbf7ff"/>
<rect x="377.60" y="243.00" width="20.80" height="30.80" fill="#ecd9ff"/>
<rect x="397.10" y="243.00" width="20.30" height="30.80" fill="#e8d1ff"/>
<rect x="416.10" y="243.00" width="21.10" height="30.80" fill="#d9b2ff"/>
<rect x="435.90" y="243.00" width="20.30" height="30.80" fill="#f7f0ff"/>
<rect x="454.90" y="243.00" width="20.90" height="30.80" fill="#e8d1ff"/>
<rect x="474.50" y="243.00" width="20.80" height="30.80" fill="#f5ebff"/>
<rect x="494.00" y="243.00" width="20.30" height="30.80" fill="#f5ebff"/>
<rect x="513.00" y="243.00" width="20.30" height="30.80" fill="#f9f2ff"/>
<rect x="532.00" y="243.00" width="21.30" height="30.80" fill="#e5ccff"/>
<rect x="552.00" y="243.00" width="21.10" height="30.80" fill="#f0e0ff"/>
<rect x="571.80" y="243.00" width="20.50" height="30.80" fill="#e8d1ff"/>
<rect x="591.00" y="243.00" width="21.30" height="30.80" fill="#f5fffa"/>
<rect x="611.00" y="243.00" width="20.30" height="30.80" fill="#f5ebff"/>
<rect x="630.00" y="243.00" width="21.00" height="30.80" fill="#f7fffb"/>
<rect x="649.70" y="243.00" width="20.50" height="30.80" fill="#f2e6ff"/>
<rect x="668.90" y="243.00" width="18.90" height="30.80" fill="#ffffff"/>
<rect x="66.50" y="272.50" width="18.90" height="30.80" fill="#f2fff9"/>
<rect x="84.10" y="272.50" width="20.30" height="30.80" fill="#bfffdf"/>
<rect x="103.10" y="272.50" width="21.10" height="30.80" fill="#e0fff0"/>
<rect x="122.90" y="272.50" width="21.60" height="30.80" fill="#ccffe5"/>
<rect x="143.20" y="272.50" width="20.80" height="30.80" fill="#d9ffec"/>
<rect x="162.70" y="272.50" width="21.10" height="30.80" fill="#c7ffe3"/>
<rect x="182.50" y="272.50" width="20.80" height="30.80" fill="#e6fff2"/>
<rect x="202.00" y="272.50" width="21.10" height="30.80" fill="#bc7aff"/>
<rect x="221.80" y="272.50" width="21.30" height="30.80" fill="#b061ff"/>
<rect x="241.80" y="272.50" width="20.50" height="30.80" fill="#cc99ff"/>
<rect x="261.00" y="272.50" width="21.20" height="30.80" fill="#b973ff"/>
<rect x="280.90" y="272.50" width="20.60" height="30.80" fill="#dfbfff"/>
<rect x="300.20" y="272.50" width="20.10" height="30.80" fill="#d2a6ff"/>
<rect x="319.00" y="272.50" width="21.10" height="30.80" fill="#eddbff"/>
<rect x="338.80" y="272.50" width="20.80" height="30.80" fill="#e3c7ff"/>
<rect x="358.30" y="272.50" width="20.60" height="30.80" fill="#e0fff0"/>
<rect x="377.60" y="272.50" width="20.80" height="30.80" fill="#f7f0ff"/>
<rect x="397.10" y="272.50" width="20.30" height="30.80" fill="#f2e6ff"/>
<rect x="416.10" y="272.50" width="21.10" height="30.80" fill="#dfbfff"/>
<rect x="435.90" y="272.50" width="20.30" height="30.80" fill="#fbf7ff"/>
<rect x="454.90" y="272.50" width="20.90" height="30.80" fill="#eddbff"/>
<rect x="474.50" y="272.50" width="20.80" height="30.80" fill="#ffffff"/>
<rect x="494.00" y="272.50" width="20.30" height="30.80" fill="#f2e6ff"/>
<rect x="513.00" y="272.50" width="20.30" height="30.80" fill="#f7fffb"/>
<rect x="532.00" y="272.50" width="21.30" height="30.80" fill="#f5ebff"/>
<rect x="552.00" y="272.50" width="21.10" height="30.80" fill="#fbf7ff"/>
<rect x="571.80" y="272.50" width="20.50" height="30.80" fill="#fbf7ff"/>
<rect x="591.00" y="272.50" width="21.30" height="30.80" fill="#b8ffdb"/>
<rect x="611.00" y="272.50" width="20.30" height="30.80" fill="#bfffdf"/>
<rect x="630.00" y="272.50" width="21.00" height="30.80" fill="#f2fff9"/>
<rect x="649.70" y="272.50" width="20.50" height="30.80" fill="#f9f2ff"/>
<rect x="668.90" y="272.50" width="18.90" height="30.80" fill="#fbf7ff"/>
<rect x="66.50" y="302.00" width="18.90" height="30.80" fill="#e6fff2"/>
<rect x="84.10" y="302.00" width="20.30" height="30.80" fill="#b2ffd9"/>
<rect x="103.10" y="302.00" width="21.10" height="30.80" fill="#d1ffe8"/>
<rect x="122.90" y="302.00" width="21.60" height="30.80" fill="#b2ffd9"/>
<rect x="143.20" y="302.00" width="20.80" height="30.80" fill="#b8ffdb"/>
<rect x="162.70" y="302.00" width="21.10" height="30.80" fill="#adffd6"/>
<rect x="182.50" y="302.00" width="20.80" height="30.80" fill="#dbffed"/>
<rect x="202.00" y="302.00" width="21.10" height="30.80" fill="#c58cff"/>
<rect x="221.80" y="302.00" width="21.30" height="30.80" fill="#c285ff"/>
<rect x="241.80" y="302.00" width="20.50" height="30.80" fill="#ce9eff"/>
<rect x="261.00" y="302.00" width="21.20" height="30.80" fill="#c994ff"/>
<rect x="280.90" y="302.00" width="20.60" height="30.80" fill="#e5ccff"/>
<rect x="300.20" y="302.00" width="20.10" height="30.80" fill="#dfbfff"/>
<rect x="319.00" y="302.00" width="21.10" height="30.80" fill="#f7f0ff"/>
<rect x="338.80" y="302.00" width="20.80" height="30.80" fill="#ebd6ff"/>
<rect x="358.30" y="302.00" width="20.60" height="30.80" fill="#f2fff9"/>
<rect x="377.60" y="302.00" width="20.80" height="30.80" fill="#ffffff"/>
<rect x="397.10" y="302.00" width="20.30" height="30.80" fill="#f7fffb"/>
<rect x="416.10" y="302.00" width="21.10" height="30.80" fill="#f2e6ff"/>
<rect x="435.90" y="302.00" width="20.30" height="30.80" fill="#fafffc"/>
<rect x="454.90" y="302.00" width="20.90" height="30.80" fill="#fafffc"/>
<rect x="474.50" y="302.00" width="20.80" height="30.80" fill="#ffffff"/>
<rect x="494.00" y="302.00" width="20.30" height="30.80" fill="#fbf7ff"/>
<rect x="513.00" y="302.00" width="20.30" height="30.80" fill="#d9ffec"/>
<rect x="532.00" y="302.00" width="21.30" height="30.80" fill="#ffffff"/>
<rect x="552.00" y="302.00" width="21.10" height="30.80" fill="#d1ffe8"/>
<rect x="571.80" y="302.00" width="20.50" height="30.80" fill="#ebfff5"/>
<rect x="591.00" y="302.00" width="21.30" height="30.80" fill="#b2ffd9"/>
<rect x="611.00" y="302.00" width="20.30" height="30.80" fill="#c7ffe3"/>
<rect x="630.00" y="302.00" width="21.00" height="30.80" fill="#f7fffb"/>
<rect x="649.70" y="302.00" width="20.50" height="30.80" fill="#fcfaff"/>
<rect x="668.90" y="302.00" width="18.90" height="30.80" fill="#f0fff7"/>
<rect x="66.50" y="331.50" width="18.90" height="30.80" fill="#f2fff9"/>
<rect x="84.10" y="331.50" width="20.30" height="30.80" fill="#c7ffe3"/>
<rect x="103.10" y="331.50" width="21.10" height="30.80" fill="#ccffe5"/>
<rect x="122.90" y="331.50" width="21.60" height="30.80" fill="#bfffdf"/>
<rect x="143.20" y="331.50" width="20.80" height="30.80" fill="#bfffdf"/>
<rect x="162.70" y="331.50" width="21.10" height="30.80" fill="#b8ffdb"/>
<rect x="182.50" y="331.50" width="20.80" height="30.80" fill="#e6fff2"/>
<rect x="202.00" y="331.50" width="21.10" height="30.80" fill="#bf80ff"/>
<rect x="221.80" y="331.50" width="21.30" height="30.80" fill="#b56bff"/>
<rect x="241.80" y="331.50" width="20.50" height="30.80" fill="#d9b2ff"/>
<rect x="261.00" y="331.50" width="21.20" height="30.80" fill="#c58cff"/>
<rect x="280.90" y="331.50" width="20.60" height="30.80" fill="#d2a6ff"/>
<rect x="300.20" y="331.50" width="20.10" height="30.80" fill="#d2a6ff"/>
<rect x="319.00" y="331.50" width="21.10" height="30.80" fill="#ecd9ff"/>
<rect x="338.80" y="331.50" width="20.80" height="30.80" fill="#dbb8ff"/>
<rect x="358.30" y="331.50" width="20.60" height="30.80" fill="#e0fff0"/>
<rect x="377.60" y="331.50" width="20.80" height="30.80" fill="#e0fff0"/>
<rect x="397.10" y="331.50" width="20.30" height="30.80" fill="#ffffff"/>
<rect x="416.10" y="331.50" width="21.10" height="30.80" fill="#f7f0ff"/>
<rect x="435.90" y="331.50" width="20.30" height="30.80" fill="#fbf7ff"/>
<rect x="454.90" y="331.50" width="20.90" height="30.80" fill="#fbf7ff"/>
<rect x="474.50" y="331.50" width="20.80" height="30.80" fill="#ffffff"/>
<rect x="494.00" y="331.50" width="20.30" height="30.80" fill="#e6fff2"/>
<rect x="513.00" y="331.50" width="20.30" height="30.80" fill="#d9ffec"/>
<rect x="532.00" y="331.50" width="21.30" height="30.80" fill="#ebfff5"/>
<rect x="552.00" y="331.50" width="21.10" height="30.80" fill="#b2ffd9"/>
<rect x="571.80" y="331.50" width="20.50" height="30.80" fill="#bfffdf"/>
<rect x="591.00" y="331.50" width="21.30" height="30.80" fill="#adffd6"/>
<rect x="611.00" y="331.50" width="20.30" height="30.80" fill="#b2ffd9"/>
<rect x="630.00" y="331.50" width="21.00" height="30.80" fill="#ffffff"/>
<rect x="649.70" y="331.50" width="20.50" height="30.80" fill="#fbf7ff"/>
<rect x="668.90" y="331.50" width="18.90" height="30.80" fill="#c7ffe3"/>
<rect x="66.50" y="361.00" width="18.90" height="30.60" fill="#e6fff2"/>
<rect x="84.10" y="361.00" width="20.30" height="30.60" fill="#c7ffe3"/>
<rect x="103.10" y="361.00" width="21.10" height="30.60" fill="#c7ffe3"/>
<rect x="122.90" y="361.00" width="21.60" height="30.60" fill="#9effce"/>
<rect x="143.20" y="361.00" width="20.80" height="30.60" fill="#dbffed"/>
<rect x="162.70" y="361.00" width="21.10" height="30.60" fill="#a6ffd2"/>
<rect x="182.50" y="361.00" width="20.80" height="30.60" fill="#d1ffe8"/>
<rect x="202.00" y="361.00" width="21.10" height="30.60" fill="#ce9eff"/>
<rect x="221.80" y="361.00" width="21.30" height="30.60" fill="#cc99ff"/>
<rect x="241.80" y="361.00" width="20.50" height="30.60" fill="#c58cff"/>
<rect x="261.00" y="361.00" width="21.20" height="30.60" fill="#b973ff"/>
<rect x="280.90" y="361.00" width="20.60" height="30.60" fill="#cc99ff"/>
<rect x="300.20" y="361.00" width="20.10" height="30.60" fill="#bf80ff"/>
<rect x="319.00" y="361.00" width="21.10" height="30.60" fill="#ce9eff"/>
<rect x="338.80" y="361.00" width="20.80" height="30.60" fill="#c994ff"/>
<rect x="358.30" y="361.00" width="20.60" height="30.60" fill="#f2fff9"/>
<rect x="377.60" y="361.00" width="20.80" height="30.60" fill="#e0fff0"/>
<rect x="397.10" y="361.00" width="20.30" height="30.60" fill="#f7fffb"/>
<rect x="416.10" y="361.00" width="21.10" height="30.60" fill="#f7fffb"/>
<rect x="435.90" y="361.00" width="20.30" height="30.60" fill="#f5ebff"/>
<rect x="454.90" y="361.00" width="20.90" height="30.60" fill="#ffffff"/>
<rect x="474.50" y="361.00" width="20.80" height="30.60" fill="#ffffff"/>
<rect x="494.00" y="361.00" width="20.30" height="30.60" fill="#e6fff2"/>
<rect x="513.00" y="361.00" width="20.30" height="30.60" fill="#bfffdf"/>
<rect x="532.00" y="361.00" width="21.30" height="30.60" fill="#e6fff2"/>
<rect x="552.00" y="361.00" width="21.10" height="30.60" fill="#99ffcc"/>
<rect x="571.80" y="361.00" width="20.50" height="30.60" fill="#b8ffdb"/>
<rect x="591.00" y="361.00" width="21.30" height="30.60" fill="#a6ffd2"/>
<rect x="611.00" y="361.00" width="20.30" height="30.60" fill="#b8ffdb"/>
<rect x="630.00" y="361.00" width="21.00" height="30.60" fill="#f7fffb"/>
<rect x="649.70" y="361.00" width="20.50" height="30.60" fill="#fafffc"/>
<rect x="668.90" y="361.00" width="18.90" height="30.60" fill="#c7ffe3"/>
<rect x="66.50" y="390.30" width="18.90" height="45.50" fill="#bfffdf"/>
<rect x="84.10" y="390.30" width="20.30" height="45.50" fill="#b8ffdb"/>
<rect x="103.10" y="390.30" width="21.10" height="45.50" fill="#adffd6"/>
<rect x="122.90" y="390.30" width="21.60" height="45.50" fill="#9effce"/>
<rect x="143.20" y="390.30" width="20.80" height="45.50" fill="#a6ffd2"/>
<rect x="162.70" y="390.30" width="21.10" height="45.50" fill="#73ffb9"/>
<rect x="182.50" y="390.30" width="20.80" height="45.50" fill="#adffd6"/>
<rect x="202.00" y="390.30" width="21.10" height="45.50" fill="#d6adff"/>
<rect x="221.80" y="390.30" width="21.30" height="45.50" fill="#ce9eff"/>
<rect x="241.80" y="390.30" width="20.50" height="45.50" fill="#c285ff"/>
<rect x="261.00" y="390.30" width="21.20" height="45.50" fill="#ac59ff"/>
<rect x="280.90" y="390.30" width="20.60" height="45.50" fill="#c994ff"/>
<rect x="300.20" y="390.30" width="20.10" height="45.50" fill="#c58cff"/>
<rect x="319.00" y="390.30" width="21.10" height="45.50" fill="#c994ff"/>
<rect x="338.80" y="390.30" width="20.80" height="45.50" fill="#c285ff"/>
<rect x="358.30" y="390.30" width="20.60" height="45.50" fill="#f2e6ff"/>
<rect x="377.60" y="390.30" width="20.80" height="45.50" fill="#ffffff"/>
<rect x="397.10" y="390.30" width="20.30" height="45.50" fill="#ffffff"/>
<rect x="416.10" y="390.30" width="21.10" height="45.50" fill="#ffffff"/>
<rect x="435.90" y="390.30" width="20.30" height="45.50" fill="#f7f0ff"/>
<rect x="454.90" y="390.30" width="20.90" height="45.50" fill="#ffffff"/>
<rect x="474.50" y="390.30" width="20.80" height="45.50" fill="#ffffff"/>
<rect x="494.00" y="390.30" width="20.30" height="45.50" fill="#f7fffb"/>
<rect x="513.00" y="390.30" width="20.30" height="45.50" fill="#e0fff0"/>
<rect x="532.00" y="390.30" width="21.30" height="45.50" fill="#e6fff2"/>
<rect x="552.00" y="390.30" width="21.10" height="45.50" fill="#adffd6"/>
<rect x="571.80" y="390.30" width="20.50" height="45.50" fill="#bfffdf"/>
<rect x="591.00" y="390.30" width="21.30" height="45.50" fill="#d6ffeb"/>
<rect x="611.00" y="390.30" width="20.30" height="45.50" fill="#d9ffec"/>
<rect x="630.00" y="390.30" width="21.00" height="45.50" fill="#f7fffb"/>
<rect x="649.70" y="390.30" width="20.50" height="45.50" fill="#ffffff"/>
<rect x="668.90" y="390.30" width="18.90" height="45.50" fill="#c7ffe3"/>
<rect x="66.50" y="434.50" width="18.90" height="60.80" fill="#e0fff0"/>
<rect x="84.10" y="434.50" width="20.30" height="60.80" fill="#9effce"/>
<rect x="103.10" y="434.50" width="21.10" height="60.80" fill="#9effce"/>
<rect x="122.90" y="434.50" width="21.60" height="60.80" fill="#99ffcc"/>
<rect x="143.20" y="434.50" width="20.80" height="60.80" fill="#99ffcc"/>
<rect x="162.70" y="434.50" width="21.10" height="60.80" fill="#94ffc9"/>
<rect x="182.50" y="434.50" width="20.80" height="60.80" fill="#adffd6"/>
<rect x="202.00" y="434.50" width="21.10" height="60.80" fill="#d9b2ff"/>
<rect x="221.80" y="434.50" width="21.30" height="60.80" fill="#bc7aff"/>
<rect x="241.80" y="434.50" width="20.50" height="60.80" fill="#c285ff"/>
<rect x="261.00" y="434.50" width="21.20" height="60.80" fill="#b266ff"/>
<rect x="280.90" y="434.50" width="20.60" height="60.80" fill="#b973ff"/>
<rect x="300.20" y="434.50" width="20.10" height="60.80" fill="#b770ff"/>
<rect x="319.00" y="434.50" width="21.10" height="60.80" fill="#b061ff"/>
<rect x="338.80" y="434.50" width="20.80" height="60.80" fill="#b061ff"/>
<rect x="358.30" y="434.50" width="20.60" height="60.80" fill="#d6adff"/>
<rect x="377.60" y="434.50" width="20.80" height="60.80" fill="#ebd6ff"/>
<rect x="397.10" y="434.50" width="20.30" height="60.80" fill="#fbf7ff"/>
<rect x="416.10" y="434.50" width="21.10" height="60.80" fill="#ebd6ff"/>
<rect x="435.90" y="434.50" width="20.30" height="60.80" fill="#ebd6ff"/>
<rect x="454.90" y="434.50" width="20.90" height="60.80" fill="#eddbff"/>
<rect x="474.50" y="434.50" width="20.80" height="60.80" fill="#f2e6ff"/>
<rect x="494.00" y="434.50" width="20.30" height="60.80" fill="#f7f0ff"/>
<rect x="513.00" y="434.50" width="20.30" height="60.80" fill="#c7ffe3"/>
<rect x="532.00" y="434.50" width="21.30" height="60.80" fill="#f2e6ff"/>
<rect x="552.00" y="434.50" width="21.10" height="60.80" fill="#ebfff5"/>
<rect x="571.80" y="434.50" width="20.50" height="60.80" fill="#f2e6ff"/>
<rect x="591.00" y="434.50" width="21.30" height="60.80" fill="#e0fff0"/>
<rect x="611.00" y="434.50" width="20.30" height="60.80" fill="#fbf7ff"/>
<rect x="630.00" y="434.50" width="21.00" height="60.80" fill="#e8d1ff"/>
<rect x="649.70" y="434.50" width="20.50" height="60.80" fill="#f0fff7"/>
<rect x="668.90" y="434.50" width="18.90" height="60.80" fill="#a6ffd2"/>
<rect x="66.50" y="494.00" width="18.90" height="60.10" fill="#bfffdf"/>
<rect x="84.10" y="494.00" width="20.30" height="60.10" fill="#b8ffdb"/>
<rect x="103.10" y="494.00" width="21.10" height="60.10" fill="#adffd6"/>
<rect x="122.90" y="494.00" width="21.60" height="60.10" fill="#8cffc5"/>
<rect x="143.20" y="494.00" width="20.80" height="60.10" fill="#80ffbf"/>
<rect x="162.70" y="494.00" width="21.10" height="60.10" fill="#8cffc5"/>
<rect x="182.50" y="494.00" width="20.80" height="60.10" fill="#94ffc9"/>
<rect x="202.00" y="494.00" width="21.10" height="60.10" fill="#bf80ff"/>
<rect x="221.80" y="494.00" width="21.30" height="60.10" fill="#b266ff"/>
<rect x="241.80" y="494.00" width="20.50" height="60.10" fill="#b061ff"/>
<rect x="261.00" y="494.00" width="21.20" height="60.10" fill="#a54cff"/>
<rect x="280.90" y="494.00" width="20.60" height="60.10" fill="#b973ff"/>
<rect x="300.20" y="494.00" width="20.10" height="60.10" fill="#b770ff"/>
<rect x="319.00" y="494.00" width="21.10" height="60.10" fill="#ba75ff"/>
<rect x="338.80" y="494.00" width="20.80" height="60.10" fill="#bf80ff"/>
<rect x="358.30" y="494.00" width="20.60" height="60.10" fill="#e3c7ff"/>
<rect x="377.60" y="494.00" width="20.80" height="60.10" fill="#e5ccff"/>
<rect x="397.10" y="494.00" width="20.30" height="60.10" fill="#f5ebff"/>
<rect x="416.10" y="494.00" width="21.10" height="60.10" fill="#dbb8ff"/>
<rect x="435.90" y="494.00" width="20.30" height="60.10" fill="#dfbfff"/>
<rect x="454.90" y="494.00" width="20.90" height="60.10" fill="#e5ccff"/>
<rect x="474.50" y="494.00" width="20.80" height="60.10" fill="#f0e0ff"/>
<rect x="494.00" y="494.00" width="20.30" height="60.10" fill="#d2a6ff"/>
<rect x="513.00" y="494.00" width="20.30" height="60.10" fill="#ebfff5"/>
<rect x="532.00" y="494.00" width="21.30" height="60.10" fill="#f2e6ff"/>
<rect x="552.00" y="494.00" width="21.10" height="60.10" fill="#f0fff7"/>
<rect x="571.80" y="494.00" width="20.50" height="60.10" fill="#f2fff9"/>
<rect x="591.00" y="494.00" width="21.30" height="60.10" fill="#f7fffb"/>
<rect x="611.00" y="494.00" width="20.30" height="60.10" fill="#ce9eff"/>
<rect x="630.00" y="494.00" width="21.00" height="60.10" fill="#ce9eff"/>
<rect x="649.70" y="494.00" width="20.50" height="60.10" fill="#f7fffb"/>
<rect x="668.90" y="494.00" width="18.90" height="60.10" fill="#b2ffd9"/>
<rect x="66.50" y="552.80" width="18.90" height="60.50" fill="#f7fffb"/>
<rect x="84.10" y="552.80" width="20.30" height="60.50" fill="#d6ffeb"/>
<rect x="103.10" y="552.80" width="21.10" height="60.50" fill="#e0fff0"/>
<rect x="122.90" y="552.80" width="21.60" height="60.50" fill="#adffd6"/>
<rect x="143.20" y="552.80" width="20.80" height="60.50" fill="#a6ffd2"/>
<rect x="162.70" y="552.80" width="21.10" height="60.50" fill="#c7ffe3"/>
<rect x="182.50" y="552.80" width="20.80" height="60.50" fill="#b2ffd9"/>
<rect x="202.00" y="552.80" width="21.10" height="60.50" fill="#d6adff"/>
<rect x="221.80" y="552.80" width="21.30" height="60.50" fill="#bc7aff"/>
<rect x="241.80" y="552.80" width="20.50" height="60.50" fill="#b973ff"/>
<rect x="261.00" y="552.80" width="21.20" height="60.50" fill="#a852ff"/>
<rect x="280.90" y="552.80" width="20.60" height="60.50" fill="#b973ff"/>
<rect x="300.20" y="552.80" width="20.10" height="60.50" fill="#b973ff"/>
<rect x="319.00" y="552.80" width="21.10" height="60.50" fill="#ba75ff"/>
<rect x="338.80" y="552.80" width="20.80" height="60.50" fill="#ba75ff"/>
<rect x="358.30" y="552.80" width="20.60" height="60.50" fill="#e5ccff"/>
<rect x="377.60" y="552.80" width="20.80" height="60.50" fill="#dbb8ff"/>
<rect x="397.10" y="552.80" width="20.30" height="60.50" fill="#ffffff"/>
<rect x="416.10" y="552.80" width="21.10" height="60.50" fill="#c994ff"/>
<rect x="435.90" y="552.80" width="20.30" height="60.50" fill="#dbb8ff"/>
<rect x="454.90" y="552.80" width="20.90" height="60.50" fill="#d2a6ff"/>
<rect x="474.50" y="552.80" width="20.80" height="60.50" fill="#e5ccff"/>
<rect x="494.00" y="552.80" width="20.30" height="60.50" fill="#ebd6ff"/>
<rect x="513.00" y="552.80" width="20.30" height="60.50" fill="#fbf7ff"/>
<rect x="532.00" y="552.80" width="21.30" height="60.50" fill="#ffffff"/>
<rect x="552.00" y="552.80" width="21.10" height="60.50" fill="#ccffe5"/>
<rect x="571.80" y="552.80" width="20.50" height="60.50" fill="#e0fff0"/>
<rect x="591.00" y="552.80" width="21.30" height="60.50" fill="#f7fffb"/>
<rect x="611.00" y="552.80" width="20.30" height="60.50" fill="#e5ccff"/>
<rect x="630.00" y="552.80" width="21.00" height="60.50" fill="#ebd6ff"/>
<rect x="649.70" y="552.80" width="20.50" height="60.50" fill="#c7ffe3"/>
<rect x="668.90" y="552.80" width="18.90" height="60.50" fill="#9effce"/>
<rect x="66.50" y="612.00" width="620.00" height="59.35" fill="#d3d3d3"/>
</g>
<rect x="261.00" y="55.50" width="19.90" height="5.50" fill="#d3d3d3"/>
<rect x="66.50" y="55.45" width="620.00" height="615.90" fill="none" stroke="#000" stroke-width="1.1"/>
<g class="tx s">
<line x1="61.60" y1="170.50" x2="66.50" y2="170.50" stroke="#000" stroke-width="1.1"/>
<text x="55.0" y="176.20" font-size="13.9" text-anchor="end" textLength="24.2" lengthAdjust="spacingAndGlyphs">100</text>
<line x1="61.60" y1="288.23" x2="66.50" y2="288.23" stroke="#000" stroke-width="1.1"/>
<text x="55.0" y="293.93" font-size="13.9" text-anchor="end" textLength="24.2" lengthAdjust="spacingAndGlyphs">200</text>
<line x1="61.60" y1="405.96" x2="66.50" y2="405.96" stroke="#000" stroke-width="1.1"/>
<text x="55.0" y="411.66" font-size="13.9" text-anchor="end" textLength="24.2" lengthAdjust="spacingAndGlyphs">300</text>
<line x1="61.60" y1="523.69" x2="66.50" y2="523.69" stroke="#000" stroke-width="1.1"/>
<text x="55.0" y="529.39" font-size="13.9" text-anchor="end" textLength="24.2" lengthAdjust="spacingAndGlyphs">400</text>
<line x1="61.60" y1="641.42" x2="66.50" y2="641.42" stroke="#000" stroke-width="1.1"/>
<text x="55.0" y="647.12" font-size="13.9" text-anchor="end" textLength="24.2" lengthAdjust="spacingAndGlyphs">500</text>
<line x1="209.90" y1="671.35" x2="209.90" y2="676.25" stroke="#000" stroke-width="1.1"/>
<g transform="translate(208.70,700.00) rotate(-45)"><text x="0" y="5.0" font-size="13.9" text-anchor="middle" textLength="38" lengthAdjust="spacingAndGlyphs">06/01</text></g>
<line x1="382.30" y1="671.35" x2="382.30" y2="676.25" stroke="#000" stroke-width="1.1"/>
<g transform="translate(381.10,700.00) rotate(-45)"><text x="0" y="5.0" font-size="13.9" text-anchor="middle" textLength="38" lengthAdjust="spacingAndGlyphs">06/02</text></g>
<line x1="554.70" y1="671.35" x2="554.70" y2="676.25" stroke="#000" stroke-width="1.1"/>
<g transform="translate(553.50,700.00) rotate(-45)"><text x="0" y="5.0" font-size="13.9" text-anchor="middle" textLength="38" lengthAdjust="spacingAndGlyphs">06/03</text></g>
<text x="375.4" y="735.9" font-size="13.9" text-anchor="middle" textLength="30.8" lengthAdjust="spacingAndGlyphs">Date</text>
<g transform="translate(19.8,364.1) rotate(-90)"><text x="0" y="0" font-size="13.9" text-anchor="middle" textLength="70.4" lengthAdjust="spacingAndGlyphs">Depth (m)</text></g>
<text x="376.2" y="24.9" font-size="19.5" text-anchor="middle" textLength="377" lengthAdjust="spacingAndGlyphs">sg622 Salinity Anomaly [sg622 - WOA]</text>
<text x="376" y="46.4" font-size="19.5" text-anchor="middle" textLength="336" lengthAdjust="spacingAndGlyphs">Generated: 2025-06-10 17:33 UTC</text>
<g clip-path="url(#cb)">
<rect x="724.50" y="660.27" width="31.00" height="11.12" fill="#00ff7f"/>
<rect x="724.50" y="650.65" width="31.00" height="11.12" fill="#08ff83"/>
<rect x="724.50" y="641.02" width="31.00" height="11.12" fill="#10ff87"/>
<rect x="724.50" y="631.40" width="31.00" height="11.12" fill="#18ff8b"/>
<rect x="724.50" y="621.77" width="31.00" height="11.12" fill="#20ff8f"/>
<rect x="724.50" y="612.15" width="31.00" height="11.12" fill="#28ff93"/>
<rect x="724.50" y="602.52" width="31.00" height="11.12" fill="#30ff97"/>
<rect x="724.50" y="592.90" width="31.00" height="11.12" fill="#38ff9b"/>
<rect x="724.50" y="583.27" width="31.00" height="11.12" fill="#40ff9f"/>
<rect x="724.50" y="573.65" width="31.00" height="11.12" fill="#48ffa3"/>
<rect x="724.50" y="564.02" width="31.00" height="11.12" fill="#50ffa7"/>
<rect x="724.50" y="554.40" width="31.00" height="11.12" fill="#58ffab"/>
<rect x="724.50" y="544.77" width="31.00" height="11.12" fill="#60ffaf"/>
<rect x="724.50" y="535.15" width="31.00" height="11.12" fill="#68ffb3"/>
<rect x="724.50" y="525.52" width="31.00" height="11.12" fill="#70ffb7"/>
<rect x="724.50" y="515.90" width="31.00" height="11.12" fill="#78ffbb"/>
<rect x="724.50" y="506.27" width="31.00" height="11.12" fill="#80ffbf"/>
<rect x="724.50" y="496.65" width="31.00" height="11.12" fill="#87ffc3"/>
<rect x="724.50" y="487.02" width="31.00" height="11.12" fill="#8fffc7"/>
<rect x="724.50" y="477.40" width="31.00" height="11.12" fill="#97ffcb"/>
<rect x="724.50" y="467.77" width="31.00" height="11.12" fill="#9fffcf"/>
<rect x="724.50" y="458.15" width="31.00" height="11.12" fill="#a7ffd3"/>
<rect x="724.50" y="448.52" width="31.00" height="11.12" fill="#afffd7"/>
<rect x="724.50" y="438.90" width="31.00" height="11.12" fill="#b7ffdb"/>
<rect x="724.50" y="429.27" width="31.00" height="11.12" fill="#bfffdf"/>
<rect x="724.50" y="419.65" width="31.00" height="11.12" fill="#c7ffe3"/>
<rect x="724.50" y="410.02" width="31.00" height="11.12" fill="#cfffe7"/>
<rect x="724.50" y="400.40" width="31.00" height="11.12" fill="#d7ffeb"/>
<rect x="724.50" y="390.77" width="31.00" height="11.12" fill="#dfffef"/>
<rect x="724.50" y="381.15" width="31.00" height="11.12" fill="#e7fff3"/>
<rect x="724.50" y="371.52" width="31.00" height="11.12" fill="#effff7"/>
<rect x="724.50" y="361.90" width="31.00" height="11.12" fill="#f7fffb"/>
<rect x="724.50" y="352.23" width="31.00" height="11.17" fill="#ffffff"/>
<rect x="724.50" y="342.56" width="31.00" height="11.17" fill="#fbf7ff"/>
<rect x="724.50" y="332.89" width="31.00" height="11.17" fill="#f7efff"/>
<rect x="724.50" y="323.22" width="31.00" height="11.17" fill="#f3e7ff"/>
<rect x="724.50" y="313.55" width="31.00" height="11.17" fill="#efdfff"/>
<rect x="724.50" y="303.88" width="31.00" height="11.17" fill="#ebd7ff"/>
<rect x="724.50" y="294.21" width="31.00" height="11.17" fill="#e7cfff"/>
<rect x="724.50" y="284.54" width="31.00" height="11.17" fill="#e3c7ff"/>
<rect x="724.50" y="274.87" width="31.00" height="11.17" fill="#dfbfff"/>
<rect x="724.50" y="265.20" width="31.00" height="11.17" fill="#dbb7ff"/>
<rect x="724.50" y="255.53" width="31.00" height="11.17" fill="#d7afff"/>
<rect x="724.50" y="245.86" width="31.00" height="11.17" fill="#d3a7ff"/>
<rect x="724.50" y="236.19" width="31.00" height="11.17" fill="#cf9fff"/>
<rect x="724.50" y="226.52" width="31.00" height="11.17" fill="#cb97ff"/>
<rect x="724.50" y="216.85" width="31.00" height="11.17" fill="#c78fff"/>
<rect x="724.50" y="207.18" width="31.00" height="11.17" fill="#c387ff"/>
<rect x="724.50" y="197.51" width="31.00" height="11.17" fill="#bf80ff"/>
<rect x="724.50" y="187.84" width="31.00" height="11.17" fill="#bb78ff"/>
<rect x="724.50" y="178.17" width="31.00" height="11.17" fill="#b770ff"/>
<rect x="724.50" y="168.50" width="31.00" height="11.17" fill="#b368ff"/>
<rect x="724.50" y="158.83" width="31.00" height="11.17" fill="#af60ff"/>
<rect x="724.50" y="149.16" width="31.00" height="11.17" fill="#ab58ff"/>
<rect x="724.50" y="139.49" width="31.00" height="11.17" fill="#a750ff"/>
<rect x="724.50" y="129.82" width="31.00" height="11.17" fill="#a348ff"/>
<rect x="724.50" y="120.15" width="31.00" height="11.17" fill="#9f40ff"/>
<rect x="724.50" y="110.48" width="31.00" height="11.17" fill="#9b38ff"/>
<rect x="724.50" y="100.81" width="31.00" height="11.17" fill="#9730ff"/>
<rect x="724.50" y="91.14" width="31.00" height="11.17" fill="#9328ff"/>
<rect x="724.50" y="81.47" width="31.00" height="11.17" fill="#8f20ff"/>
<rect x="724.50" y="71.80" width="31.00" height="11.17" fill="#8b18ff"/>
<rect x="724.50" y="62.13" width="31.00" height="11.17" fill="#8710ff"/>
<rect x="724.50" y="52.46" width="31.00" height="11.17" fill="#8308ff"/>
</g>
<rect x="724.50" y="55.45" width="31.00" height="615.90" fill="none" stroke="#000" stroke-width="1.1"/>
<line x1="755.50" y1="150.40" x2="760.40" y2="150.40" stroke="#000" stroke-width="1.1"/>
<text x="766.7" y="155.50" font-size="13.9" textLength="19.8" lengthAdjust="spacingAndGlyphs">0.2</text>
<line x1="755.50" y1="265.40" x2="760.40" y2="265.40" stroke="#000" stroke-width="1.1"/>
<text x="766.7" y="270.50" font-size="13.9" textLength="19.8" lengthAdjust="spacingAndGlyphs">0.1</text>
<line x1="755.50" y1="380.40" x2="760.40" y2="380.40" stroke="#000" stroke-width="1.1"/>
<text x="766.7" y="385.50" font-size="13.9" textLength="19.8" lengthAdjust="spacingAndGlyphs">0.0</text>
<line x1="755.50" y1="495.40" x2="760.40" y2="495.40" stroke="#000" stroke-width="1.1"/>
<text x="766.7" y="500.50" font-size="13.9" textLength="29.9" lengthAdjust="spacingAndGlyphs">−0.1</text>
<line x1="755.50" y1="610.40" x2="760.40" y2="610.40" stroke="#000" stroke-width="1.1"/>
<text x="766.7" y="615.50" font-size="13.9" textLength="29.9" lengthAdjust="spacingAndGlyphs">−0.2</text>
<g transform="translate(813.9,364.5) rotate(-90)"><text x="0" y="0" font-size="13.9" text-anchor="middle" textLength="172" lengthAdjust="spacingAndGlyphs">△ Salinity Anomaly (psu)</text></g>
</g>
</svg></body></html>
